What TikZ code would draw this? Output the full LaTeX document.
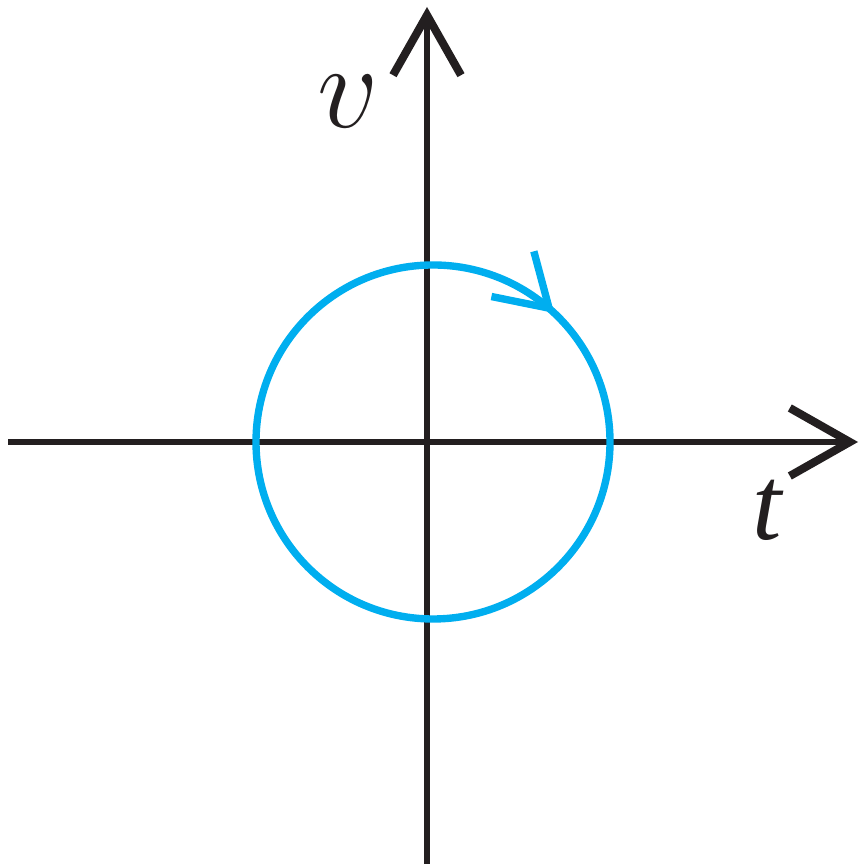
\documentclass[tikz,border=0pt]{standalone}
\usepackage{fontspec}
\setmainfont{Liberation Serif}
\usepackage{graphicx}
\usepackage{xcolor}
\definecolor{axisDark}{HTML}{231F20}
\definecolor{loopCyan}{HTML}{00AEEF}
\usepackage{tikz}
\usetikzlibrary{arrows.meta, decorations.markings}

\begin{document}
\begin{tikzpicture}[
    axis/.style={draw=axisDark, line width=1.6pt, -{Straight Barb[sharp, length=0.6cm, width=0.68cm, line width=2.3pt]}},
    loop/.style={draw=loopCyan, line width=2.1pt,
        postaction={decorate, decoration={markings,
            mark=at position 0.12 with {\arrow{Straight Barb[sharp, length=0.5cm, width=0.62cm, line width=2.1pt]}}}}},
    axlabel/.style={font=\fontsize{30}{30}\selectfont\itshape, text=axisDark, inner sep=0pt}
]
\useasboundingbox (0,0) rectangle (8.6,8.64);

% axes
\coordinate (origin) at (4.27,4.22);
\coordinate (v_start) at (4.27,0);
\coordinate (v_end) at (4.27,8.57);
\coordinate (t_start) at (0.08,4.22);
\coordinate (t_end) at (8.58,4.22);

\draw [axis] (v_start) -- (v_end);
\draw [axis] (t_start) -- (t_end);

\node (lbl_v) [axlabel] at (3.48,7.62) {\scalebox{1.38}{$v$}};
\node (lbl_t) [axlabel] at (7.67,3.54) {t};

% clockwise circle
\coordinate (centre) at (4.33,4.22);
\draw [loop] (centre) ++(90:1.77) arc[start angle=90, end angle=-270, radius=1.77];

\end{tikzpicture}
\end{document}
